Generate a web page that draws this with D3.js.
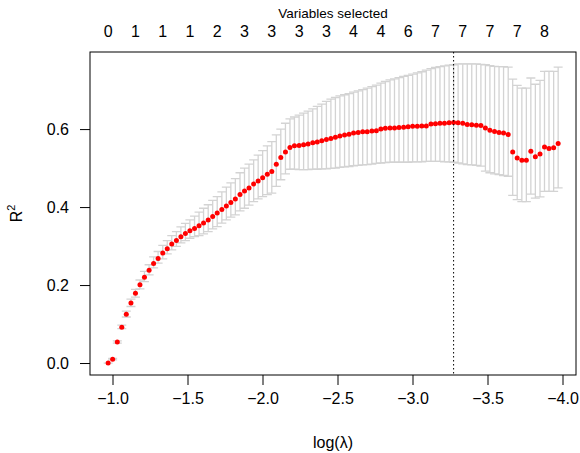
<!DOCTYPE html>
<html><head><meta charset="utf-8">
<script src="https://cdn.jsdelivr.net/npm/d3@7"></script>
<style>body{margin:0;background:#fff}svg{display:block}text{font-family:"Liberation Sans",Arial,Helvetica,sans-serif}</style>
</head><body>
<script>
const logLambda = [-0.971,-1.001,-1.032,-1.062,-1.092,-1.123,-1.153,-1.183,-1.213,-1.244,
-1.274,-1.304,-1.335,-1.365,-1.395,-1.426,-1.456,-1.486,-1.516,-1.547,
-1.577,-1.607,-1.638,-1.668,-1.698,-1.729,-1.759,-1.789,-1.819,-1.850,
-1.880,-1.910,-1.941,-1.971,-2.001,-2.032,-2.062,-2.092,-2.122,-2.153,
-2.183,-2.213,-2.244,-2.274,-2.304,-2.335,-2.365,-2.395,-2.426,-2.456,
-2.486,-2.516,-2.547,-2.577,-2.607,-2.638,-2.668,-2.698,-2.729,-2.759,
-2.789,-2.819,-2.850,-2.880,-2.910,-2.941,-2.971,-3.001,-3.032,-3.062,
-3.092,-3.123,-3.153,-3.183,-3.213,-3.244,-3.274,-3.304,-3.335,-3.365,
-3.395,-3.426,-3.456,-3.486,-3.516,-3.547,-3.577,-3.607,-3.638,-3.668,
-3.698,-3.729,-3.759,-3.789,-3.819,-3.850,-3.880,-3.910,-3.941,-3.971];
const r2Mean = [0.000,0.010,0.054,0.092,0.125,0.154,0.179,0.201,0.220,0.238,
0.255,0.268,0.282,0.293,0.305,0.314,0.324,0.332,0.339,0.345,
0.352,0.359,0.367,0.376,0.385,0.394,0.403,0.412,0.421,0.432,
0.441,0.449,0.459,0.467,0.475,0.484,0.491,0.510,0.527,0.541,
0.553,0.557,0.558,0.560,0.562,0.565,0.567,0.570,0.573,0.576,
0.579,0.582,0.585,0.587,0.590,0.591,0.593,0.593,0.595,0.596,
0.600,0.602,0.603,0.603,0.604,0.605,0.606,0.607,0.607,0.608,
0.608,0.613,0.614,0.615,0.615,0.616,0.617,0.616,0.615,0.612,
0.611,0.610,0.609,0.603,0.597,0.594,0.591,0.590,0.586,0.541,
0.526,0.520,0.520,0.543,0.529,0.536,0.554,0.550,0.552,0.563];
const r2Upper = [0.000,0.012,0.057,0.097,0.133,0.164,0.189,0.213,0.235,0.252,
0.272,0.286,0.302,0.314,0.327,0.337,0.349,0.358,0.367,0.377,
0.387,0.397,0.406,0.417,0.427,0.439,0.451,0.462,0.473,0.488,
0.500,0.510,0.521,0.533,0.545,0.557,0.568,0.585,0.600,0.615,
0.626,0.631,0.636,0.641,0.646,0.652,0.658,0.664,0.671,0.677,
0.681,0.685,0.688,0.691,0.695,0.698,0.701,0.705,0.709,0.713,
0.718,0.722,0.726,0.729,0.732,0.735,0.738,0.741,0.744,0.747,
0.751,0.755,0.758,0.760,0.762,0.764,0.765,0.767,0.767,0.767,
0.767,0.767,0.766,0.765,0.763,0.761,0.760,0.760,0.759,0.728,
0.712,0.705,0.705,0.731,0.715,0.725,0.748,0.748,0.748,0.759];
const r2Lower = [0.000,0.008,0.051,0.088,0.118,0.145,0.169,0.190,0.209,0.226,
0.244,0.256,0.267,0.280,0.290,0.299,0.308,0.314,0.320,0.324,
0.327,0.331,0.337,0.344,0.350,0.359,0.367,0.374,0.380,0.390,
0.397,0.405,0.414,0.421,0.427,0.432,0.436,0.453,0.470,0.485,
0.497,0.497,0.496,0.496,0.496,0.497,0.497,0.498,0.498,0.499,
0.500,0.502,0.503,0.504,0.506,0.507,0.508,0.509,0.510,0.512,
0.513,0.514,0.515,0.515,0.515,0.515,0.515,0.516,0.516,0.516,
0.517,0.517,0.517,0.517,0.516,0.516,0.515,0.513,0.511,0.509,
0.508,0.507,0.505,0.492,0.488,0.485,0.483,0.481,0.479,0.430,
0.419,0.414,0.414,0.433,0.423,0.426,0.440,0.440,0.440,0.449];
const topLabelIndex = [0,6,12,18,24,30,36,42,48,54,60,66,72,78,84,90,96];
const topLabels = ["0","1","1","1","2","3","3","3","3","4","4","6","7","7","7","7","8"];
const xTicks = [-1.0,-1.5,-2.0,-2.5,-3.0,-3.5,-4.0];
const yTicks = [0.0,0.2,0.4,0.6];
const lambdaMinLog = -3.274;

const W = 580, H = 453;
const L = 90, R = 576, T = 52, B = 375;
const svg = d3.select("body").append("svg").attr("width", W).attr("height", H);
const x = d3.scaleLinear().domain([-0.85, -4.09]).range([L, R]);
const y = d3.scaleLinear().domain([-0.0307, 0.7977]).range([B, T]);
const fmt = d3.format(".1f");

// error bars
const cap = 4.5;
const eb = svg.append("g").attr("stroke", "#d3d3d3").attr("stroke-width", 1.3).attr("fill", "none");
logLambda.forEach((lx, i) => {
  const cx = x(lx), yu = y(r2Upper[i]), yl = y(r2Lower[i]);
  eb.append("path").attr("d", `M${cx},${yu}V${yl}M${cx-cap},${yu}H${cx+cap}M${cx-cap},${yl}H${cx+cap}`);
});
// points
svg.append("g").selectAll("circle").data(logLambda).join("circle")
  .attr("cx", d => x(d)).attr("cy", (d, i) => y(r2Mean[i])).attr("r", 2.5).attr("fill", "#ff0000");
// lambda.min line
svg.append("line").attr("x1", x(lambdaMinLog)).attr("x2", x(lambdaMinLog)).attr("y1", T).attr("y2", B)
  .attr("stroke", "#000").attr("stroke-width", 1).attr("stroke-dasharray", "1.5,2.5");
// box
svg.append("rect").attr("x", L).attr("y", T).attr("width", R - L).attr("height", B - T)
  .attr("fill", "none").attr("stroke", "#000").attr("stroke-width", 1);
// x axis
const xa = svg.append("g").attr("transform", `translate(0,${B})`)
  .call(d3.axisBottom(x).tickValues(xTicks).tickFormat(fmt).tickSize(10).tickPadding(8));
xa.select(".domain").remove();
xa.selectAll("text").attr("font-size", 16).attr("fill", "#000").attr("font-family", '"Liberation Sans",Arial,sans-serif');
// y axis
const ya = svg.append("g").attr("transform", `translate(${L},0)`)
  .call(d3.axisLeft(y).tickValues(yTicks).tickFormat(fmt).tickSize(10).tickPadding(11));
ya.select(".domain").remove();
ya.selectAll("text").attr("font-size", 16).attr("fill", "#000").attr("font-family", '"Liberation Sans",Arial,sans-serif');
// top labels
svg.append("g").selectAll("text").data(topLabelIndex).join("text")
  .attr("x", d => x(logLambda[d])).attr("y", 37).attr("text-anchor", "middle")
  .attr("font-size", 16).text((d, i) => topLabels[i]);
svg.append("text").attr("x", (L + R) / 2).attr("y", 18).attr("text-anchor", "middle")
  .attr("font-size", 13.5).text("Variables selected");
// axis titles
svg.append("text").attr("x", (L + R) / 2).attr("y", 448).attr("text-anchor", "middle")
  .attr("font-size", 16).text("log(λ)");
const yt = svg.append("text").attr("transform", `translate(22,${(T + B) / 2}) rotate(-90)`)
  .attr("text-anchor", "middle").attr("font-size", 16);
yt.append("tspan").text("R");
yt.append("tspan").attr("font-size", 11).attr("dy", -7).text("2");
</script>
</body></html>
